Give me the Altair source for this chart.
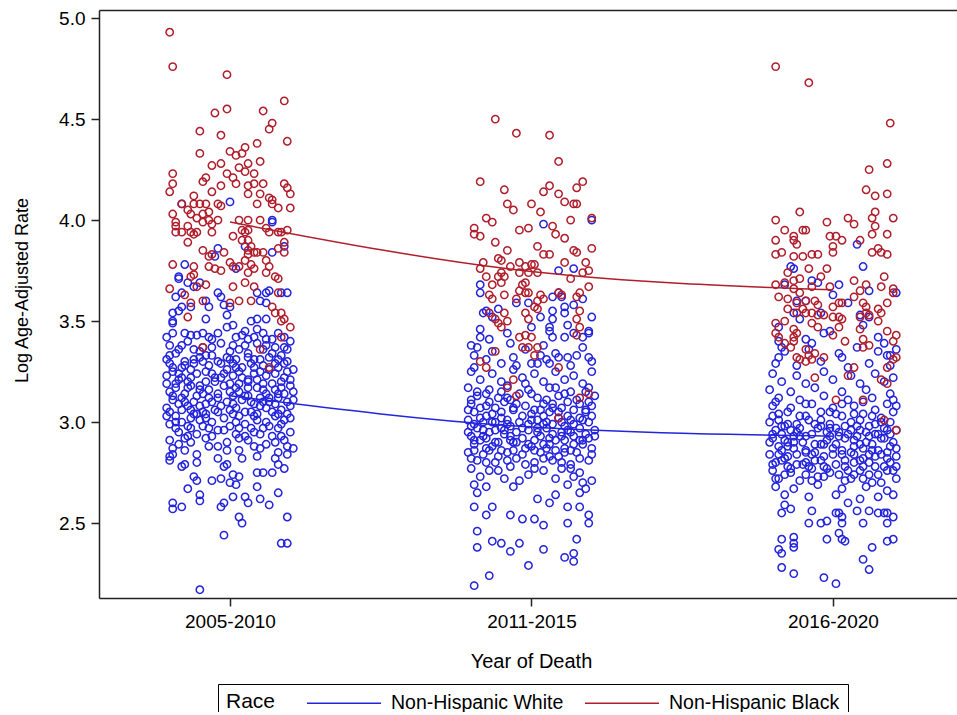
import altair as alt
import pandas as pd

# ---------------- data ----------------
PERIODS = ["2005-2010", "2011-2015", "2016-2020"]
RACES = ["Non-Hispanic White", "Non-Hispanic Black"]
BLUE = "#2424dc"
RED = "#b01e2c"

# (jitter offset in hundredths of a period step, log age-adjusted rate)
W0 = [(-10,2.17),(-2,2.44),(17,2.40),(19,2.40),(19,2.53),(3,2.53),(4,2.50),(-19,2.60),(-19,2.57),(-16,2.58),
      (-10,2.61),(-10,2.64),(-3,2.58),(-2,2.60),(1,2.63),(5,2.63),(6,2.60),(10,2.62),(13,2.59),(16,2.65),
      (-14,2.67),(-12,2.73),(-11,2.71),(-6,2.71),(-3,2.72),(0,2.70),(1,2.74),(3,2.73),(2,2.69),(9,2.68),
      (9,2.75),(11,2.75),(14,2.75),(18,2.77),(16,2.79),(-16,2.78),(-15,2.79),(-11,2.80),(-20,2.81),(-19,2.84),
      (-2,2.78),(-1,2.79),(4,2.82),
      (-16,4.08),(0,4.09),(14,4.00),(14,3.99),(18,3.87),(-4,3.86),(-5,3.82),(2,3.76),(14,3.84),(5,3.87),
      (-15,3.78),(-17,3.72),(-17,3.71),(-14,3.69),(-12,3.67),(-10,3.69),(-18,3.62),(-16,3.64),(-4,3.64),(-3,3.62),
      (-2,3.58),(0,3.57),(-8,3.60),(-7,3.57),(9,3.64),(10,3.60),(12,3.64),(13,3.65),(17,3.64),(19,3.64),
      (-19,3.54),(-17,3.55),(-16,3.57),(-13,3.57),(-8,3.51),(-1,3.53),(7,3.50),(9,3.51),(9,3.46),(12,3.59),
      (12,3.51),(-19,3.50),(-19,3.44),(-15,3.44),(-9,3.44),(-7,3.42),(-1,3.47),(1,3.48),(2,3.42),(6,3.41),
      (8,3.42),(16,3.44),(18,3.37),(-19,3.49),(4,3.43),(12,3.41),(14,3.41),(-11,3.43),(-6,3.41),
      (-20,3.38),(-14,3.40),(-9,3.37),(-3,3.39),(3,3.36),(9,3.39),(15,3.37),(20,3.40),
      (-18,3.34),(-12,3.36),(-6,3.33),(0,3.35),(6,3.34),(11,3.36),(17,3.33),
      (-21,3.31),(-15,3.30),(-10,3.32),(-4,3.30),(2,3.31),(7,3.29),(13,3.32),(19,3.30),
      (-19,3.27),(-13,3.26),(-7,3.28),(-1,3.26),(4,3.27),(10,3.25),(16,3.27),(21,3.26),
      (-21,3.23),(-16,3.22),(-11,3.24),(-5,3.22),(1,3.23),(6,3.21),(12,3.23),(18,3.22),
      (-18,3.19),(-13,3.18),(-8,3.20),(-2,3.18),(3,3.19),(9,3.17),(14,3.19),(20,3.18),
      (-20,3.15),(-15,3.14),(-10,3.16),(-4,3.14),(0,3.15),(5,3.13),(11,3.16),(16,3.14),(21,3.15),
      (-19,3.11),(-12,3.10),(-7,3.12),(-1,3.10),(4,3.11),(8,3.09),(13,3.12),(19,3.10),
      (-21,3.07),(-16,3.06),(-10,3.08),(-5,3.06),(2,3.07),(7,3.05),(12,3.07),(17,3.06),
      (-18,3.03),(-13,3.02),(-8,3.04),(-2,3.02),(3,3.03),(9,3.01),(15,3.03),(20,3.02),
      (-20,2.99),(-14,2.98),(-6,3.00),(0,2.98),(5,2.99),(11,2.97),(17,2.99),
      (-17,2.95),(-11,2.94),(-4,2.96),(2,2.94),(8,2.95),(14,2.93),(20,2.95),
      (-20,2.91),(-13,2.90),(-8,2.92),(-1,2.90),(6,2.91),(12,2.89),(18,2.91),
      (-19,2.87),(-15,2.86),(-7,2.88),(3,2.86),(10,2.87),(16,2.85),(21,2.87),
      (-20,2.83),(-11,2.84),(-4,2.82),(9,2.83),(15,2.82),(19,2.84),
      (-17,3.36),(-8,3.33),(5,3.38),(14,3.34),(-15,3.28),(-3,3.29),(8,3.27),(18,3.29),(-19,3.25),(-8,3.25),
      (3,3.25),(15,3.24),(-14,3.20),(-5,3.20),(6,3.20),(17,3.20),(-18,3.17),(-7,3.16),(2,3.17),(12,3.14),
      (-16,3.12),(-4,3.12),(6,3.13),(16,3.12),(-14,3.08),(-3,3.08),(10,3.08),(20,3.08),(-20,3.05),(-9,3.05),
      (5,3.05),(14,3.05),(-16,3.00),(-10,3.01),(2,3.00),(12,3.00),(18,3.01),
      (-12,3.29),(1,3.29),(11,3.28),(-17,3.21),(-3,3.22),(9,3.21),(20,3.21),(-11,3.13),(1,3.13),(15,3.16),
      (-13,3.06),(0,3.06),(9,3.04),(-18,2.97),(-7,2.97),(7,2.97),(16,2.97),(-15,2.92),(3,2.92),(15,2.90),
      (-20,3.33),(-10,3.35),(-1,3.32),(8,3.31),(16,3.31),(-17,3.24),(-6,3.24),(4,3.22),(13,3.26),(-19,3.13),
      (-9,3.14),(3,3.15),(10,3.12),(18,3.14),(-15,3.10),(-6,3.10),(7,3.10),(15,3.09),(-18,3.00),(-8,3.02),
      (1,3.04),(8,3.03),(19,3.04),(-13,2.97),(-2,2.96),(10,2.94),(-17,2.89),(-4,2.88),(8,2.88),(19,2.88),
      (-12,3.31),(6,3.32),(-14,3.17),(0,3.19),(11,3.19),(-11,3.04),(13,3.10),(-16,3.27),(2,3.27),(19,3.25),
      (-21,3.42),(-13,3.43),(-4,3.44),(5,3.45),(11,3.44),(18,3.42),(-16,3.38),(-6,3.37),(1,3.38),(12,3.38),
      (19,3.36),(-20,3.29),(-9,3.30),(0,3.31),(10,3.31),(15,3.29),(-13,3.22),(-2,3.24),(8,3.24),(-21,3.19),
      (-10,3.18),(6,3.17),(17,3.17),(-17,3.09),(-8,3.09),(1,3.09),(11,3.10),(21,3.11),(-12,3.04),(-4,3.05),
      (16,3.04),(-21,3.03),(-9,2.98),(3,2.97),(13,2.98),(-14,2.93),(-6,2.93),(5,2.93),(17,2.93),(-1,2.86)]

B0 = [(-20,4.93),(-19,4.76),(-1,4.72),(18,4.59),(-5,4.53),(-1,4.55),(11,4.54),(-10,4.44),(-3,4.42),(19,4.39),
      (14,4.48),(13,4.45),(9,4.38),(-10,4.33),(0,4.34),(2,4.32),(4,4.33),(5,4.36),(-6,4.27),(-3,4.28),
      (3,4.26),(6,4.28),(10,4.29),(-19,4.23),(-19,4.18),(-20,4.14),(-8,4.21),(-9,4.19),(-1,4.23),(1,4.21),
      (2,4.18),(5,4.24),(8,4.23),(-6,4.14),(-3,4.17),(6,4.17),(8,4.18),(11,4.18),(10,4.13),(6,4.13),
      (18,4.18),(19,4.16),(20,4.13),(9,4.08),(13,4.11),(14,4.10),(14,4.08),(20,4.06),(16,4.06),(-12,4.12),
      (-16,4.08),(-12,4.08),(-10,4.08),(-8,4.08),(-4,4.08),(-3,4.07),(-19,4.03),(-14,4.05),(-13,4.03),(-11,4.01),
      (-9,4.03),(-7,4.04),(-7,4.00),(-4,4.00),(-6,3.98),(-18,3.99),(-18,3.97),(-18,3.94),(-16,3.94),(-14,3.97),
      (-13,3.94),(-12,3.93),(-11,3.94),(-14,3.89),(-9,3.99),(-6,3.94),(1,3.92),(3,4.00),(6,4.00),(4,3.95),
      (5,3.94),(6,3.95),(10,4.00),(12,3.96),(13,3.94),(16,3.94),(17,3.94),(19,3.95),(4,3.90),(6,3.90),
      (7,3.87),(6,3.85),(16,3.86),(18,3.89),(18,3.84),(-9,3.85),(-7,3.82),(-6,3.83),(-2,3.84),(0,3.79),
      (3,3.77),(5,3.80),(6,3.83),(8,3.84),(9,3.84),(7,3.78),(11,3.84),(12,3.80),(13,3.77),(-19,3.78),
      (-12,3.77),(-12,3.73),(-13,3.72),(-7,3.77),(-5,3.76),(-3,3.75),(1,3.77),(6,3.74),(8,3.76),(12,3.74),
      (15,3.72),(16,3.71),(-20,3.66),(-11,3.67),(-9,3.60),(1,3.67),(5,3.69),(8,3.67),(0,3.59),(3,3.60),
      (7,3.60),(-15,3.63),(-13,3.59),(14,3.57),(15,3.54),(17,3.54),(-14,3.52),(17,3.50),(18,3.51),(20,3.47),
      (17,3.42),(-9,3.37),(10,3.36),(-8,3.68),(16,3.64),(13,3.27)]

W1 = [(-19,2.19),(-14,2.24),(-1,2.29),(11,2.33),(14,2.35),(14,2.31),(-18,2.38),(-18,2.46),(-13,2.41),(-10,2.40),
      (-7,2.36),(-4,2.40),(4,2.37),(15,2.42),(-19,2.58),(-15,2.54),(-13,2.58),(-7,2.54),(-3,2.52),(1,2.52),
      (4,2.49),(12,2.58),(12,2.50),(16,2.58),(19,2.54),(19,2.50),(-18,2.65),(-15,2.68),(2,2.62),(6,2.60),
      (8,2.64),(16,2.65),
      (4,3.98),(20,4.00),(9,3.75),(14,3.76),(9,3.64),(10,3.62),(-17,3.68),(-17,3.64),(-16,3.54),(-15,3.55),
      (-13,3.52),(7,3.55),(11,3.57),(11,3.54),(17,3.61),(-5,3.59),(3,3.52),(7,3.51),(-17,3.46),(-17,3.42),
      (-18,3.37),(-19,3.33),(-14,3.41),(6,3.47),(7,3.42),(6,3.45),(11,3.42),(14,3.44),(17,3.42),(19,3.44),
      (19,3.45),(-7,3.39),(-6,3.32),(-5,3.28),(15,3.33),(19,3.32),(20,3.30),(5,3.31),(9,3.32),(12,3.32),
      (0,3.29),(2,3.29),(-20,3.38),(-13,3.35),(-10,3.29),(-2,3.36),(4,3.38),(8,3.34),(17,3.37),(-15,3.31),
      (3,3.33),(13,3.28),(-19,3.27),(6,3.29),(-8,3.44),(0,3.47),(12,3.48),(-11,3.56),(-1,3.59),(7,3.62),
      (14,3.58),(20,3.52),
      (-20,3.25),(-13,3.24),(-6,3.26),(1,3.24),(8,3.25),(14,3.23),(20,3.25),
      (-17,3.21),(-10,3.20),(-3,3.22),(4,3.20),(11,3.21),(17,3.19),
      (-21,3.17),(-14,3.16),(-8,3.18),(-1,3.16),(6,3.17),(13,3.15),(19,3.17),
      (-18,3.13),(-11,3.12),(-4,3.14),(2,3.12),(9,3.13),(15,3.11),(21,3.13),
      (-20,3.09),(-15,3.08),(-9,3.10),(-2,3.08),(4,3.09),(10,3.07),(16,3.09),(20,3.08),
      (-19,3.05),(-13,3.04),(-6,3.06),(0,3.04),(6,3.05),(12,3.03),(18,3.05),
      (-21,3.01),(-16,3.00),(-10,3.02),(-4,3.00),(2,3.01),(7,2.99),(13,3.01),(19,3.00),
      (-18,2.97),(-12,2.96),(-7,2.98),(-1,2.96),(5,2.97),(10,2.95),(16,2.97),(21,2.96),
      (-20,2.93),(-15,2.92),(-9,2.94),(-3,2.92),(3,2.93),(8,2.91),(14,2.93),(19,2.92),
      (-19,2.89),(-13,2.88),(-6,2.90),(0,2.88),(6,2.89),(11,2.87),(17,2.89),
      (-21,2.85),(-16,2.84),(-10,2.86),(-3,2.84),(3,2.85),(9,2.83),(15,2.85),(20,2.84),
      (-18,2.81),(-12,2.80),(-5,2.82),(1,2.80),(7,2.81),(13,2.79),(19,2.81),
      (-20,2.77),(-14,2.76),(-7,2.78),(4,2.76),(10,2.77),(16,2.75),
      (-17,2.73),(-9,2.72),(-1,2.74),(8,2.72),(14,2.73),(20,2.71),
      (-19,2.69),(-6,2.68),(12,2.69),(18,2.67),
      (-17,3.07),(-6,3.07),(7,3.07),(18,3.06),(-15,3.03),(-3,3.03),(9,3.02),(20,3.03),(-19,2.99),(-8,2.99),
      (4,2.99),(14,2.99),(-14,2.95),(-5,2.95),(7,2.94),(18,2.94),(-17,2.91),(-7,2.91),(1,2.91),(11,2.91),
      (-15,2.87),(-2,2.87),(8,2.86),(20,2.87),(-11,2.83),(6,2.83),
      (-12,3.00),(0,3.01),(10,3.00),(-16,2.96),(-3,2.97),(12,2.96),(-11,2.90),(4,2.89),(16,2.91),(-8,3.12),
      (-20,3.11),(-7,3.11),(5,3.11),(12,3.10),(-17,3.02),(-8,3.01),(4,3.03),(16,3.02),(-21,2.95),(-9,2.96),
      (2,2.95),(13,2.95),(-19,2.91),(-5,2.90),(6,2.92),(17,2.91),(-14,2.86),(-6,2.86),(5,2.87),(13,2.86),
      (-20,2.82),(-8,2.81),(4,2.82),(16,2.82),(-12,3.07),(1,3.06),(14,3.06),(-2,3.19),(8,3.17),(-15,3.14),
      (-18,3.15),(-10,3.15),(0,3.14),(11,3.14),(18,3.15),(-14,3.10),(-5,3.09),(7,3.09),(19,3.10),(-21,3.06),
      (-10,3.05),(3,3.06),(9,3.05),(-13,3.00),(-1,2.99),(5,3.00),(17,3.01),(-20,2.98),(-10,2.97),(2,2.97),
      (11,2.98),(-16,2.93),(-7,2.93),(10,2.93),(21,2.93),(-12,2.90),(-1,2.89),(14,2.89),(-19,2.86),(-8,2.85),
      (1,2.86),(11,2.85),(-15,2.80),(-2,2.79),(10,2.80),(-11,2.76),(1,2.77),(13,2.77),(-4,2.71),(17,2.70)]

B1 = [(-12,4.50),(-5,4.43),(6,4.42),(9,4.29),(-17,4.19),(-9,4.15),(4,4.14),(6,4.17),(9,4.13),(15,4.16),
      (17,4.19),(-8,4.08),(-6,4.05),(0,4.08),(3,4.04),(11,4.09),(14,4.08),(15,4.08),(13,4.00),(20,4.01),
      (-15,4.01),(-13,3.99),(-19,3.96),(-19,3.93),(-17,3.92),(-4,3.95),(-1,3.96),(7,3.97),(8,3.93),(11,3.91),
      (-12,3.89),(2,3.87),(4,3.83),(6,3.83),(20,3.86),(-8,3.85),(-11,3.81),(-10,3.80),(14,3.85),(15,3.84),
      (-16,3.79),(-17,3.76),(-7,3.77),(-4,3.79),(-2,3.77),(0,3.78),(1,3.78),(2,3.74),(-15,3.72),(-11,3.72),
      (-10,3.74),(-9,3.72),(-4,3.74),(-1,3.74),(11,3.79),(13,3.71),(18,3.79),(19,3.75),(17,3.74),(-13,3.68),
      (-10,3.69),(-3,3.68),(-2,3.69),(-1,3.64),(3,3.63),(4,3.61),(9,3.64),(10,3.63),(15,3.62),(16,3.64),
      (19,3.67),(-14,3.63),(-13,3.61),(-9,3.63),(-5,3.61),(-4,3.65),(-2,3.64),(2,3.60),(1,3.57),(16,3.55),
      (-9,3.54),(-14,3.54),(-12,3.51),(-11,3.49),(-10,3.47),(-8,3.50),(-2,3.54),(-1,3.51),(2,3.56),(15,3.51),
      (15,3.43),(16,3.47),(-4,3.42),(-2,3.43),(0,3.42),(-3,3.37),(-1,3.37),(2,3.37),(1,3.33),(-12,3.35),
      (-17,3.30),(-15,3.27),(9,3.27),(-6,3.21),(-8,3.17),(-5,3.13),(16,3.12),(19,3.14),(9,3.02)]

W2 = [(1,2.20),(-3,2.23),(-13,2.25),(-17,2.28),(12,2.27),(10,2.32),(13,2.38),(-18,2.37),(-17,2.35),(-13,2.43),
      (-13,2.40),(-13,2.38),(-17,2.42),(-2,2.42),(3,2.42),(4,2.41),(18,2.41),(20,2.42),(-8,2.50),(-4,2.50),
      (-2,2.51),(2,2.45),(3,2.50),(3,2.53),(10,2.50),(18,2.50),(20,2.53),(-7,2.56),(-17,2.55),(-14,2.57),
      (-16,2.59),(1,2.55),(2,2.55),(5,2.60),(8,2.56),(12,2.56),(15,2.55),(17,2.55),(18,2.55),
      (-14,3.77),(10,3.77),(-13,3.76),(8,3.88),(-16,3.68),(-7,3.70),(-5,3.69),(2,3.68),(12,3.65),(21,3.64),
      (0,3.63),(5,3.59),(-12,3.60),(-9,3.60),(-13,3.54),(-11,3.51),(-4,3.54),(9,3.53),(12,3.52),(10,3.48),
      (-1,3.45),(-3,3.44),(-18,3.47),(-18,3.40),(-17,3.37),(-9,3.41),(-7,3.39),(15,3.42),(17,3.39),(18,3.33),
      (19,3.33),(3,3.32),(-18,3.32),(-19,3.29),(-12,3.28),(-4,3.30),(5,3.27),(12,3.29),(19,3.28),(-16,3.35),
      (-8,3.36),(2,3.34),(8,3.37),(15,3.35),(21,3.36),
      (-20,3.24),(-12,3.23),(-3,3.25),(6,3.23),(14,3.24),(20,3.22),
      (-17,3.20),(-9,3.19),(0,3.21),(9,3.19),(17,3.20),
      (-21,3.16),(-14,3.15),(-6,3.17),(3,3.15),(11,3.16),(19,3.14),
      (-18,3.12),(-11,3.11),(-3,3.13),(5,3.11),(13,3.12),(20,3.11),
      (-20,3.08),(-14,3.07),(-7,3.09),(0,3.07),(7,3.08),(14,3.06),(21,3.08),
      (-18,3.04),(-11,3.03),(-4,3.05),(3,3.03),(10,3.04),(16,3.02),
      (-21,3.00),(-15,2.99),(-8,3.01),(-1,2.99),(6,3.00),(12,2.98),(19,3.00),
      (-19,2.96),(-12,2.95),(-5,2.97),(2,2.95),(9,2.96),(15,2.94),(21,2.96),
      (-20,2.92),(-16,2.91),(-9,2.93),(-2,2.91),(4,2.92),(11,2.90),(17,2.92),
      (-18,2.88),(-13,2.87),(-6,2.89),(0,2.87),(7,2.88),(13,2.86),(19,2.88),
      (-21,2.84),(-15,2.83),(-9,2.85),(-3,2.83),(3,2.84),(10,2.82),(16,2.84),(21,2.83),
      (-19,2.80),(-12,2.79),(-6,2.81),(1,2.79),(7,2.80),(14,2.78),(19,2.80),
      (-20,2.76),(-14,2.75),(-7,2.77),(-1,2.75),(5,2.76),(12,2.74),(18,2.76),
      (-18,2.72),(-11,2.71),(-3,2.73),(4,2.71),(10,2.72),(16,2.70),(21,2.72),
      (-19,2.68),(-13,2.67),(-5,2.69),(3,2.67),(11,2.68),(18,2.66),
      (-16,2.64),(-8,2.63),(1,2.64),(9,2.62),(15,2.63),(20,2.64),
      (-16,2.98),(-4,2.98),(8,2.98),(17,2.97),(-17,2.94),(-7,2.94),(5,2.94),(14,2.94),(-15,2.90),(-4,2.89),
      (9,2.89),(20,2.90),(-17,2.86),(-9,2.86),(3,2.86),(15,2.86),(-16,2.82),(-4,2.81),(9,2.81),(18,2.82),
      (-15,2.78),(-3,2.78),(10,2.78),(-9,2.74),(2,2.74),(15,2.74),
      (-11,2.97),(1,2.97),(12,2.93),(-13,2.90),(-1,2.93),(7,2.91),(-7,2.84),(6,2.85),(18,2.85),(-10,2.79),
      (-20,3.03),(-9,3.03),(1,3.04),(13,3.03),(-17,2.98),(-6,2.99),(4,2.98),(14,2.99),(-21,2.90),(-10,2.90),
      (1,2.89),(13,2.89),(-18,2.84),(-6,2.85),(7,2.84),(12,2.84),(-20,2.79),(-8,2.78),(4,2.78),(17,2.78),
      (-13,2.93),(8,2.93),(19,2.94),(-12,2.99),(-2,2.95),(11,2.95),(-16,2.74),(-5,2.73),(7,2.74),(20,2.76),
      (-19,3.10),(-9,3.09),(3,3.09),(10,3.10),(18,3.09),(-15,3.05),(-1,3.05),(7,3.04),(20,3.05),(-18,3.01),
      (-4,3.01),(9,3.01),(16,3.00),(-14,2.96),(-1,2.97),(6,2.96),(18,2.96),(-20,2.94),(-11,2.93),(2,2.93),
      (16,2.92),(-15,2.88),(-3,2.89),(10,2.87),(21,2.87),(-12,2.84),(0,2.84),(14,2.83),(-17,2.81),(-9,2.80),
      (4,2.81),(12,2.80),(-14,2.77),(-2,2.77),(9,2.76),(21,2.78),(-19,2.72),(-7,2.71),(6,2.72),(13,2.70)]

B2 = [(-19,4.76),(-8,4.68),(19,4.48),(18,4.28),(12,4.25),(11,4.15),(14,4.12),(18,4.13),(-11,4.04),(14,4.04),
      (13,4.01),(14,3.97),(20,4.01),(-19,4.00),(-16,3.95),(-10,3.95),(-9,3.95),(-2,3.99),(5,4.01),(7,3.98),
      (-19,3.90),(-13,3.92),(-13,3.90),(-12,3.88),(-1,3.92),(1,3.92),(3,3.90),(0,3.87),(0,3.84),(9,3.90),
      (13,3.93),(18,3.93),(-19,3.83),(-17,3.84),(-13,3.82),(-10,3.82),(-7,3.83),(-5,3.83),(13,3.84),(15,3.86),
      (16,3.84),(18,3.83),(-8,3.76),(-2,3.76),(17,3.72),(-15,3.74),(-4,3.72),(-19,3.68),(-16,3.69),(-13,3.70),
      (-11,3.71),(-7,3.67),(-1,3.67),(7,3.70),(11,3.68),(16,3.67),(20,3.66),(-18,3.62),(-15,3.61),(-13,3.66),
      (-11,3.64),(-9,3.60),(-6,3.60),(-5,3.58),(0,3.57),(2,3.59),(3,3.59),(7,3.62),(9,3.65),(10,3.59),
      (11,3.57),(15,3.56),(16,3.54),(18,3.59),(20,3.64),(-15,3.56),(-12,3.59),(-12,3.54),(-10,3.56),(-9,3.54),
      (-7,3.54),(-5,3.53),(-3,3.53),(0,3.52),(2,3.52),(3,3.51),(9,3.52),(11,3.54),(12,3.53),(-19,3.49),
      (-16,3.50),(-13,3.46),(-12,3.44),(-7,3.49),(-5,3.47),(0,3.43),(2,3.47),(4,3.40),(9,3.46),(10,3.41),
      (15,3.50),(18,3.45),(21,3.43),(20,3.40),(-19,3.44),(-18,3.42),(-16,3.39),(-13,3.42),(-13,3.40),(-12,3.32),
      (-8,3.33),(-6,3.34),(-3,3.32),(10,3.37),(12,3.38),(21,3.32),(1,3.11),(10,3.11),(17,3.01),(21,2.96),
      (-6,3.22),(5,3.23),(7,3.27),(-11,3.31),(-9,3.30),(-7,3.31),(18,3.27),(20,3.31),(16,3.21),(18,3.19),
      (-14,3.37),(-9,3.36)]

# fitted curve values at the three periods
LINE_WHITE = [3.13, 2.975, 2.93]
LINE_BLACK = [3.99, 3.745, 3.655]

# ---------------- tables ----------------
rows = []
for i, (w, b) in enumerate(zip([W0, W1, W2], [B0, B1, B2])):
    for off, v in w:
        rows.append({"race": RACES[0], "x": i + off / 100.0, "y": v})
    for off, v in b:
        rows.append({"race": RACES[1], "x": i + off / 100.0, "y": v})
points = pd.DataFrame(rows)

lines = pd.DataFrame(
    [{"race": RACES[0], "x": i, "y": v} for i, v in enumerate(LINE_WHITE)]
    + [{"race": RACES[1], "x": i, "y": v} for i, v in enumerate(LINE_BLACK)]
)

FONT = "Liberation Sans"
xscale = alt.Scale(domain=[-0.4345, 2.4115], nice=False, zero=False)
yscale = alt.Scale(domain=[2.129, 5.040], nice=False, zero=False)

label_expr = "datum.value == 0 ? '%s' : datum.value == 1 ? '%s' : '%s'" % tuple(PERIODS)

pts_layer = alt.Chart(points).mark_point(
    shape="circle", filled=False, size=54, strokeWidth=1.5, opacity=1
).encode(
    x=alt.X("x:Q", scale=xscale, axis=alt.Axis(
        values=[0, 1, 2], labelExpr=label_expr, title="Year of Death",
        orient="bottom", tickSize=8, labelPadding=6, labelFontSize=19, titleFontSize=20,
        titleX=432, titleY=63, titleBaseline="middle", titleAlign="center")),
    y=alt.Y("y:Q", scale=yscale, axis=alt.Axis(
        values=[2.5, 3.0, 3.5, 4.0, 4.5, 5.0], format=".1f", title="Log Age-Adjusted Rate",
        tickSize=8, labelPadding=6, labelFontSize=19, titleFontSize=18,
        titleX=-77, titleY=280, titleAngle=270, titleBaseline="middle", titleAlign="center")),
    stroke=alt.Stroke("race:N", scale=alt.Scale(domain=RACES, range=[BLUE, RED]), legend=None),
)

line_layer = alt.Chart(lines).mark_line(interpolate="monotone", strokeWidth=1.5).encode(
    x=alt.X("x:Q", scale=xscale, axis=alt.Axis(
        orient="top", labels=False, ticks=False, title=None, domain=True)),
    y=alt.Y("y:Q", scale=yscale),
    color=alt.Color("race:N", scale=alt.Scale(domain=RACES, range=[BLUE, RED]), legend=alt.Legend(
        orient="none", legendX=119, legendY=674, direction="horizontal",
        title="Race", titleOrient="left", titleFontSize=21, titleFontWeight="normal",
        titleColor="black", titleFont=FONT, titlePadding=57,
        labelFontSize=19.5, labelColor="black", labelFont=FONT, labelOffset=36, labelLimit=0,
        symbolType="M-3.7,0H3.7", symbolSize=400, symbolStrokeWidth=1.5,
        columnPadding=18, padding=8, strokeColor="black")),
)

chart = alt.layer(pts_layer, line_layer).resolve_scale(color="independent", stroke="independent").properties(
    width=858, height=588,
    padding={"left": 99, "top": 10, "right": 0, "bottom": 114},
    autosize=alt.AutoSizeParams(type="none"),
).configure(font=FONT).configure_axis(
    grid=False, domainColor="#222222", domainWidth=1.5, tickColor="#222222", tickWidth=1.5,
    labelColor="black", titleColor="black", titleFontWeight="normal", labelFont=FONT, titleFont=FONT,
).configure_view(stroke=None)

chart.save("out.html", embed_options={"renderer": "svg", "actions": False})
